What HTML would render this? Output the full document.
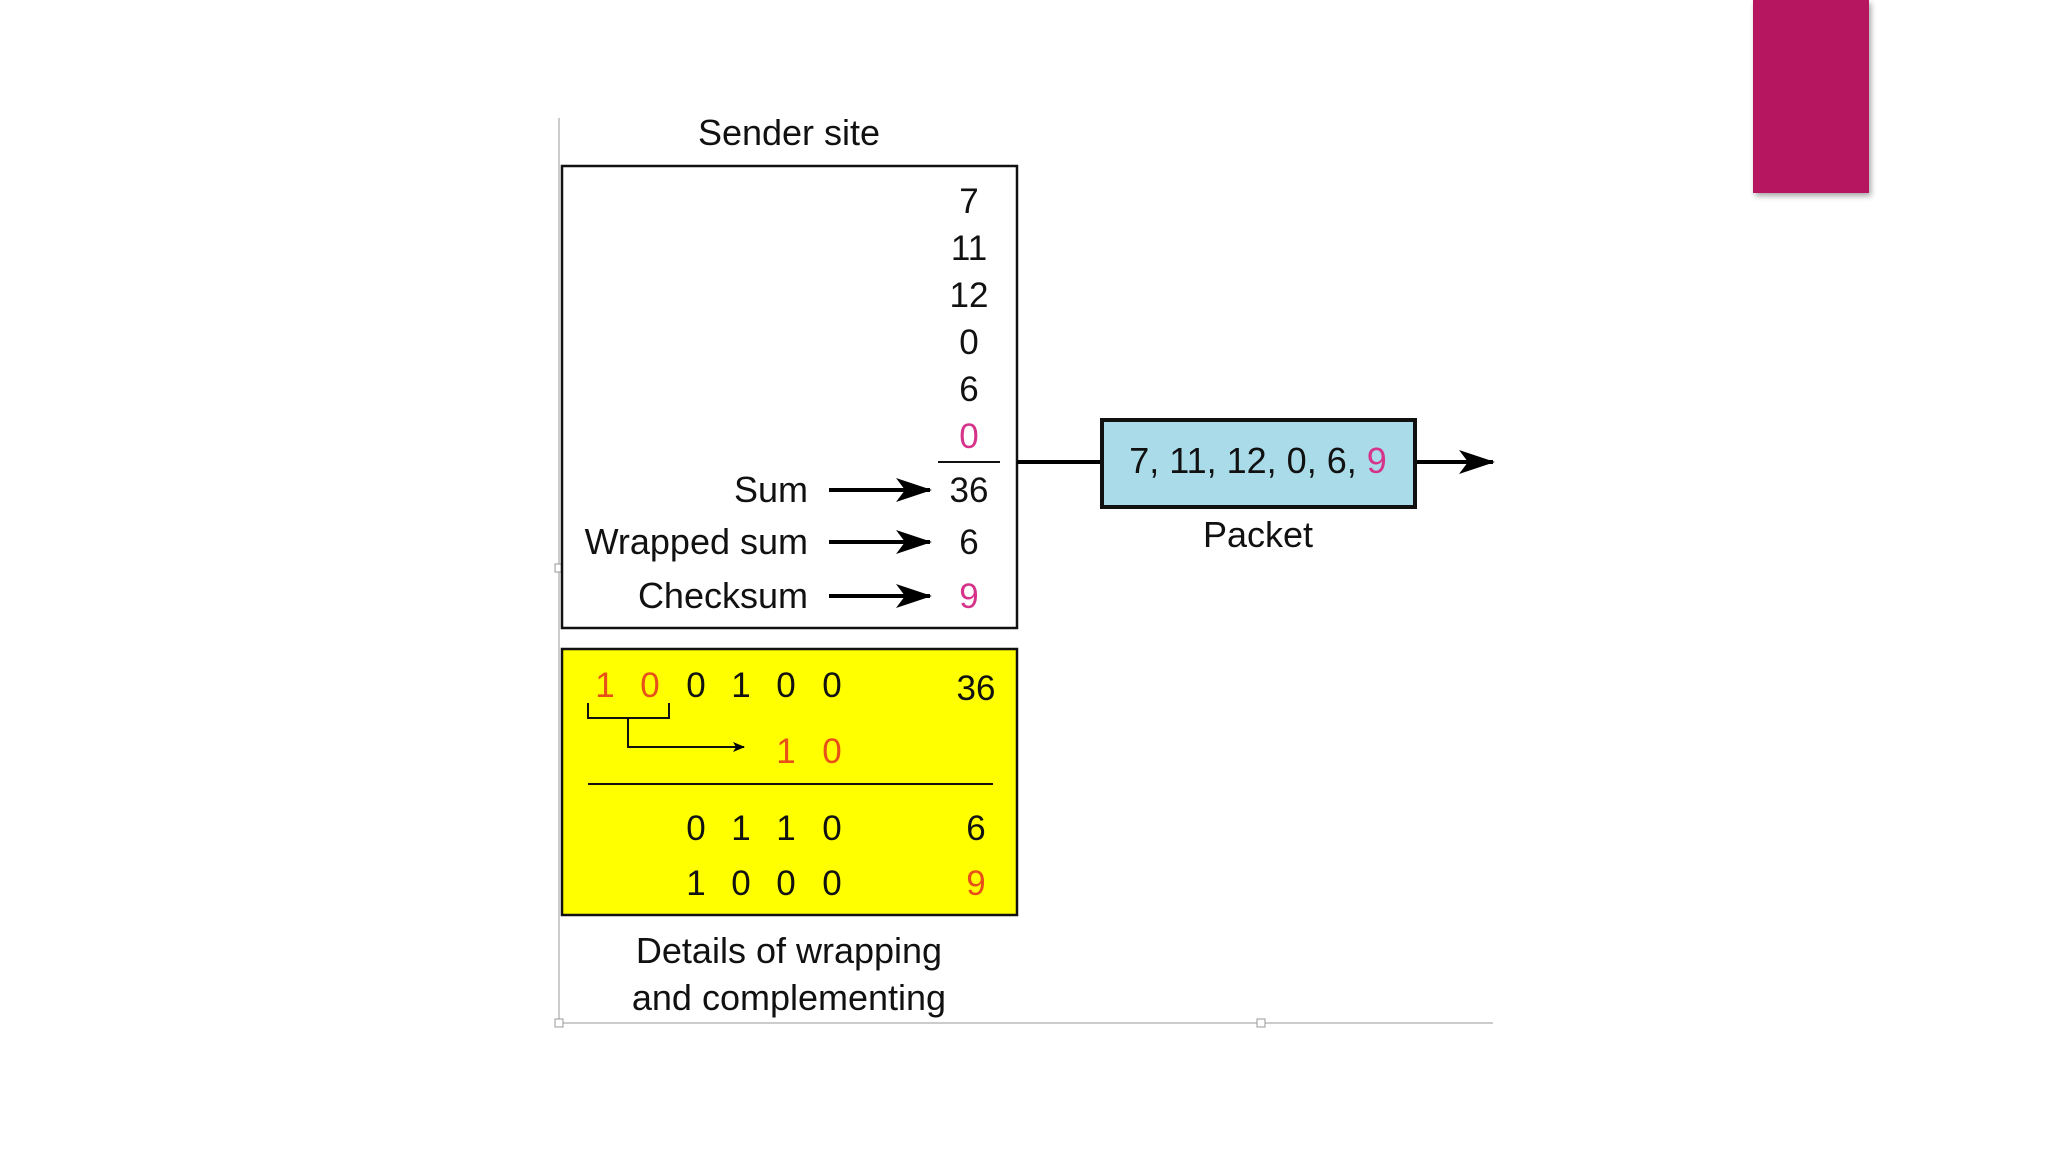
<!DOCTYPE html>
<html><head><meta charset="utf-8"><style>
html,body{margin:0;padding:0;background:#fff;}
svg{display:block}
text{font-family:"Liberation Sans",sans-serif;fill:#111;}
</style></head><body>
<svg width="2048" height="1152" viewBox="0 0 2048 1152" xmlns="http://www.w3.org/2000/svg">
<defs>
<marker id="ah" markerWidth="12" markerHeight="10" refX="11" refY="5" orient="auto" markerUnits="userSpaceOnUse" viewBox="0 0 12 10">
<path d="M0,0 L12,5 L0,10 L3,5 Z" fill="#000"/></marker>
<marker id="ah2" markerWidth="36" markerHeight="24" refX="34" refY="12" orient="auto" markerUnits="userSpaceOnUse" viewBox="0 0 36 24">
<path d="M0,0 L36,12 L0,24 L9,12 Z" fill="#000"/></marker>
<filter id="sh" x="-20%" y="-20%" width="140%" height="140%"><feDropShadow dx="2" dy="3" stdDeviation="3" flood-opacity="0.35"/></filter>
</defs>
<rect x="1753" y="0" width="116" height="193" fill="#b5135e" filter="url(#sh)"/>
<!-- frame lines -->
<line x1="559" y1="118" x2="559" y2="1023" stroke="#bbb" stroke-width="1.5"/>
<line x1="559" y1="1023" x2="1493" y2="1023" stroke="#bbb" stroke-width="1.5"/>
<rect x="555" y="1019" width="8" height="8" fill="#fff" stroke="#999"/>
<rect x="1257" y="1019" width="8" height="8" fill="#fff" stroke="#999"/>
<rect x="555" y="564" width="8" height="8" fill="#fff" stroke="#999"/>
<text x="789" y="145" font-size="36" text-anchor="middle">Sender site</text>
<rect x="562" y="166" width="455" height="462" fill="#fff" stroke="#111" stroke-width="2.5"/>
<g font-size="35" text-anchor="middle">
<text x="969" y="213">7</text>
<text x="969" y="260">11</text>
<text x="969" y="307">12</text>
<text x="969" y="354">0</text>
<text x="969" y="401">6</text>
<text x="969" y="448" style="fill:#d6338a">0</text>
<text x="969" y="502">36</text>
<text x="969" y="554">6</text>
<text x="969" y="608" style="fill:#d6338a">9</text>
</g>
<line x1="938" y1="462" x2="1000" y2="462" stroke="#111" stroke-width="2"/>
<g font-size="36" text-anchor="end">
<text x="808" y="502">Sum</text>
<text x="808" y="554">Wrapped sum</text>
<text x="808" y="608">Checksum</text>
</g>
<g stroke="#000" stroke-width="4">
<line x1="829" y1="490" x2="930" y2="490" marker-end="url(#ah2)"/>
<line x1="829" y1="542" x2="930" y2="542" marker-end="url(#ah2)"/>
<line x1="829" y1="596" x2="930" y2="596" marker-end="url(#ah2)"/>
<line x1="1017" y1="462" x2="1101" y2="462"/>
<line x1="1416" y1="462" x2="1493" y2="462" marker-end="url(#ah2)"/>
</g>
<rect x="1102" y="420" width="313" height="87" fill="#a9dbe8" stroke="#111" stroke-width="4"/>
<text x="1258" y="473" font-size="36" text-anchor="middle">7, 11, 12, 0, 6, <tspan style="fill:#d6338a">9</tspan></text>
<text x="1258" y="547" font-size="36" text-anchor="middle">Packet</text>
<rect x="562" y="649" width="455" height="266" fill="#ffff00" stroke="#111" stroke-width="2.5"/>
<g font-size="35" text-anchor="middle">
<text x="605" y="697" style="fill:#e8501a">1</text>
<text x="650" y="697" style="fill:#e8501a">0</text>
<text x="696" y="697">0</text><text x="741" y="697">1</text><text x="786" y="697">0</text><text x="832" y="697">0</text>
<text x="976" y="700">36</text>
<text x="786" y="763" style="fill:#e8501a">1</text>
<text x="832" y="763" style="fill:#e8501a">0</text>
<text x="696" y="840">0</text><text x="741" y="840">1</text><text x="786" y="840">1</text><text x="832" y="840">0</text>
<text x="976" y="840">6</text>
<text x="696" y="895">1</text><text x="741" y="895">0</text><text x="786" y="895">0</text><text x="832" y="895">0</text>
<text x="976" y="895" style="fill:#e8501a">9</text>
</g>
<polyline points="588,703 588,718 669,718 669,703" fill="none" stroke="#111" stroke-width="2"/>
<polyline points="628,718 628,747 744,747" fill="none" stroke="#111" stroke-width="2" marker-end="url(#ah)"/>
<line x1="588" y1="784" x2="993" y2="784" stroke="#111" stroke-width="2"/>
<text x="789" y="963" font-size="36" text-anchor="middle">Details of wrapping</text>
<text x="789" y="1010" font-size="36" text-anchor="middle">and complementing</text>
</svg>
</body></html>
